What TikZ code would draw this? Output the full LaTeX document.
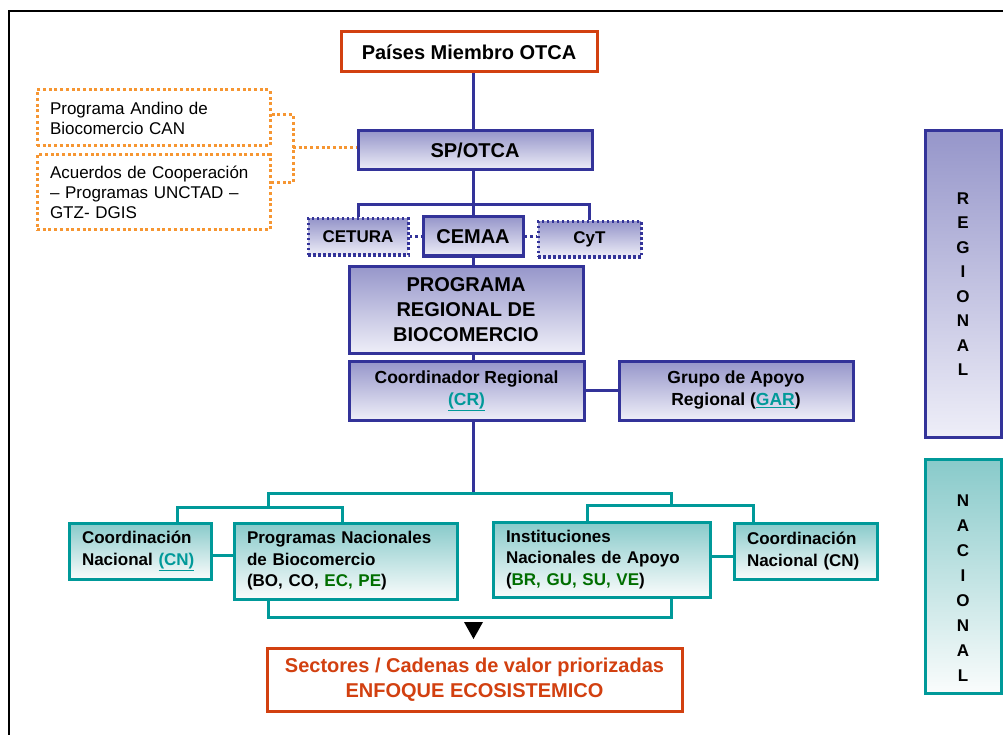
\documentclass[tikz,border=0pt]{standalone}
\usepackage{fontspec}
\setmainfont{Liberation Sans}
\usepackage{xcolor}
\usepackage{tikz}

\definecolor{otcablue}{RGB}{51,51,153}
\definecolor{otcateal}{RGB}{0,153,153}
\definecolor{otcared}{RGB}{210,64,16}
\definecolor{otcaorange}{RGB}{246,150,50}
\definecolor{otcagreen}{RGB}{0,110,0}
\definecolor{bluetop}{RGB}{150,150,202}
\definecolor{bluebot}{RGB}{238,238,248}
\definecolor{tealtop}{RGB}{136,202,202}
\definecolor{tealbot}{RGB}{250,252,252}

\newcommand{\lnk}[1]{\textcolor{otcateal}{\underline{#1}}}
\newcommand{\grn}[1]{\textcolor{otcagreen}{#1}}

\tikzset{
  redbox/.style={draw=otcared, line width=3pt, fill=white, inner sep=0pt, align=center},
  bluebox/.style={draw=otcablue, line width=3pt, top color=bluetop, bottom color=bluebot, inner sep=0pt, align=center},
  dotbox/.style={bluebox, dash pattern=on 2.5pt off 2.5pt},
  tealbox/.style={draw=otcateal, line width=3pt, top color=tealtop, bottom color=tealbot, inner xsep=13pt, inner ysep=0pt, align=left,
    font=\fontsize{17}{21.5}\selectfont\bfseries},
  orangebox/.style={draw=otcaorange, line width=3pt, dash pattern=on 3pt off 2.7pt, inner xsep=13pt, inner ysep=0pt, align=left,
    font=\fontsize{17}{20}\selectfont},
  bluelink/.style={draw=otcablue, line width=3pt},
  bluedots/.style={draw=otcablue, line width=3pt, dash pattern=on 2.5pt off 3pt},
  teallink/.style={draw=otcateal, line width=3pt},
  orangelink/.style={draw=otcaorange, line width=3pt, dash pattern=on 3pt off 2.7pt}
}

\begin{document}
\begin{tikzpicture}[x=1pt,y=-1pt]
\useasboundingbox (0,0) rectangle (1003,735);
\draw[line width=1.5pt] (9,735) -- (9,11) -- (1003,11);

% nivel regional
\node[redbox, minimum width=256, minimum height=40, font=\fontsize{20}{25}\selectfont\bfseries] (pm) at (469,52) {Países Miembro OTCA};
\node[bluebox, minimum width=234, minimum height=39, font=\fontsize{20}{25}\selectfont\bfseries] (sp) at (475,150.5) {SP/OTCA};

\node[orangebox, text width=207, minimum height=56] (andino) at (153.5,118) {Programa Andino de\\Biocomercio CAN};
\node[orangebox, text width=207, minimum height=75] (acuerdos) at (153.5,192.5) {Acuerdos de Cooperación\\– Programas UNCTAD –\\GTZ- DGIS};

\node[bluebox, minimum width=100, minimum height=39, font=\fontsize{20}{25}\selectfont\bfseries] (cemaa) at (473,236.5) {CEMAA};
\node[dotbox, minimum width=100, minimum height=36, font=\fontsize{17}{21}\selectfont\bfseries] (cetura) at (358,237) {CETURA};
\node[dotbox, minimum width=103, minimum height=35, font=\fontsize{17}{21}\selectfont\bfseries] (cyt) at (589.5,239.5) {CyT};

\node[bluebox, minimum width=234, minimum height=87, font=\fontsize{20}{25}\selectfont\bfseries] (prog) at (466,309.5) {PROGRAMA\\REGIONAL DE\\BIOCOMERCIO};
\node[bluebox, minimum width=235, minimum height=59, font=\fontsize{17.5}{22}\selectfont\bfseries] (cr) at (466.5,390.5) {Coordinador Regional\\\lnk{(CR)}};
\node[bluebox, minimum width=234, minimum height=59, font=\fontsize{17.5}{22}\selectfont\bfseries] (gar) at (736,390.5) {Grupo de Apoyo\\Regional (\lnk{GAR})};

\node[bluebox, minimum width=76, minimum height=306, font=\fontsize{17}{24.5}\selectfont\bfseries] (reg) at (963,284) {R\\E\\G\\I\\O\\N\\A\\L};

% nivel nacional
\node[tealbox, text width=116, minimum height=56] (cnl) at (140,551) {Coordinación\\Nacional \lnk{(CN)}};
\node[tealbox, text width=197, minimum height=76] (pn) at (345.5,561) {Programas Nacionales\\de Biocomercio\\(BO, CO, \grn{EC, PE})};
\node[tealbox, text width=191, minimum height=75] (inst) at (601.5,559.5) {Instituciones\\Nacionales de Apoyo\\(\grn{BR, GU, SU, VE})};
\node[tealbox, text width=117, minimum height=56] (cnr) at (805.5,551) {Coordinación\\Nacional (CN)};

\node[tealbox, minimum width=76, minimum height=234, inner xsep=0pt] (nac) at (963,576) {};
\node[font=\fontsize{17}{25}\selectfont\bfseries, align=center, inner sep=0pt] (nacl) at (963,588.5) {N\\A\\C\\I\\O\\N\\A\\L};

\node[redbox, minimum width=415, minimum height=63, text=otcared, font=\fontsize{20}{25}\selectfont\bfseries] (sect) at (474.5,679.5) {Sectores / Cadenas de valor priorizadas\\ENFOQUE ECOSISTEMICO};

% conectores
\coordinate (cbr) at (473,205);
\coordinate (ob) at (293,148);
\coordinate (nbr) at (473,493);
\coordinate (nl) at (268,507);
\coordinate (nr) at (671,505);

\draw[bluelink] (pm.south -| cemaa.north) -- (sp.north -| cemaa.north);
\draw[bluelink] (sp.south -| cemaa.north) -- (cemaa.north);
\draw[bluelink] (cetura.north) |- (cbr) -| (cyt.north);
\draw[bluedots] (cetura.east) -- (cetura.east -| cemaa.west);
\draw[bluedots] (cemaa.east) -- (cemaa.east -| cyt.west);

\draw[orangelink] (andino.east |- 0,115) -| (ob) |- (acuerdos.east |- 0,183);
\draw[orangelink] (ob) -- (ob -| sp.west);

\draw[bluelink] (cemaa.south) -- (prog.north -| cemaa.south);
\draw[bluelink] (prog.south -| cemaa.south) -- (cr.north -| cemaa.south);
\draw[bluelink] (cr.east) -- (gar.west);
\draw[bluelink] (cr.south -| cemaa.south) -- (nbr);

\draw[teallink] (nl) |- (nbr) -| (nr);
\draw[teallink] (cnl.north -| 177,0) |- (nl) -| (pn.north -| 342,0);
\draw[teallink] (inst.north -| 587,0) |- (nr) -| (cnr.north -| 753,0);
\draw[teallink] (cnl.east |- 0,555) -- (pn.west |- 0,555);
\draw[teallink] (inst.east |- 0,556) -- (cnr.west |- 0,556);
\draw[teallink] (pn.south -| nl) -- ++(0,17) -| (inst.south -| nr);

\fill (464,622) -- (483,622) -- (473.5,639) -- cycle;

\end{tikzpicture}
\end{document}
